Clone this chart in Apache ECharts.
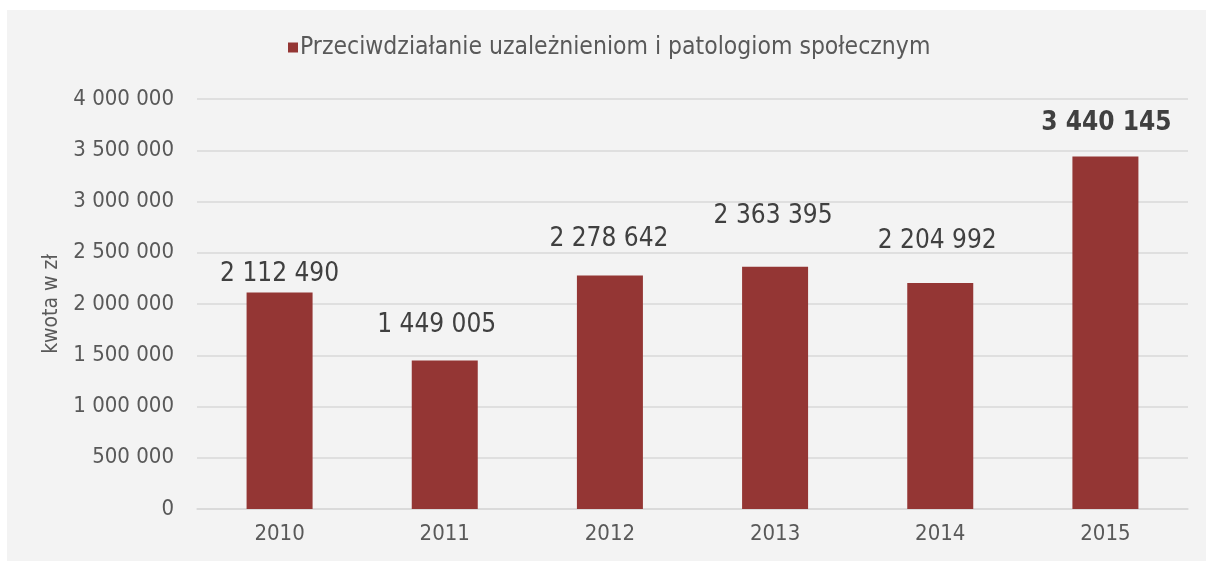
<!DOCTYPE html>
<html>
<head>
<meta charset="utf-8">
<script src="https://cdn.jsdelivr.net/npm/echarts@6/dist/echarts.min.js"></script>
<style>
  html, body { margin: 0; padding: 0; background: #fff; }
  #chart { width: 1206px; height: 561px; }
</style>
</head>
<body>
<div id="chart"></div>
<script>
const years = ['2010', '2011', '2012', '2013', '2014', '2015'];
const amounts = [2112490, 1449005, 2278642, 2363395, 2204992, 3440145];
const seriesName = 'Przeciwdziałanie uzależnieniom i patologiom społecznym';
const axisTitle = 'kwota w zł';

const FONT = '"DejaVu Sans Condensed", "DejaVu Sans", sans-serif';

// labels in the original were dragged by hand, so nudge each one
const labelNudge = [[0, 0], [-8, -17], [-1, -18], [-2, -33], [-3, -24], [1, -15]];

function spaced(v) {
    return String(v).replace(/\B(?=(\d{3})+(?!\d))/g, ' ');
}

const chart = echarts.init(document.getElementById('chart'));

chart.setOption({
    backgroundColor: '#ffffff',
    animation: false,
    textStyle: { fontFamily: FONT },
    graphic: [{
        type: 'rect',
        z: -10,
        shape: { x: 7, y: 10, width: 1199, height: 551 },
        style: { fill: '#f3f3f3' }
    }],
    legend: {
        left: 283,
        top: 30,
        itemWidth: 10,
        itemHeight: 10,
        itemGap: 4,
        icon: 'rect',
        textStyle: { fontFamily: FONT, fontSize: 24.5, color: '#595959', padding: [0, 0, 0, -3] },
        data: [seriesName]
    },
    grid: { left: 197, right: 18, top: 99, bottom: 52 },
    xAxis: {
        type: 'category',
        data: years,
        axisTick: { show: false },
        axisLine: { lineStyle: { color: '#d9d9d9', width: 1.5 } },
        axisLabel: { fontFamily: FONT, fontSize: 22, color: '#595959', margin: 14 }
    },
    yAxis: {
        type: 'value',
        min: 0,
        max: 4000000,
        interval: 500000,
        name: axisTitle,
        nameLocation: 'middle',
        nameGap: 133,
        nameTextStyle: { fontFamily: FONT, fontSize: 21, color: '#595959' },
        axisLine: { show: false },
        axisTick: { show: false },
        splitLine: { lineStyle: { color: '#d9d9d9', width: 1.5 } },
        axisLabel: {
            fontFamily: FONT, fontSize: 22, color: '#595959', margin: 23,
            formatter: v => spaced(v)
        }
    },
    series: [{
        name: seriesName,
        type: 'bar',
        barWidth: 66,
        itemStyle: { color: '#943634' },
        data: amounts.map((v, i) => ({
            value: v,
            label: {
                offset: labelNudge[i],
                fontWeight: i === 5 ? 'bold' : 'normal'
            }
        })),
        label: {
            show: true,
            position: 'top',
            fontFamily: FONT,
            fontSize: 26,
            color: '#404040',
            formatter: p => spaced(p.value)
        }
    }]
});

window.addEventListener('resize', function () {
    chart.resize();
});
</script>
</body>
</html>
